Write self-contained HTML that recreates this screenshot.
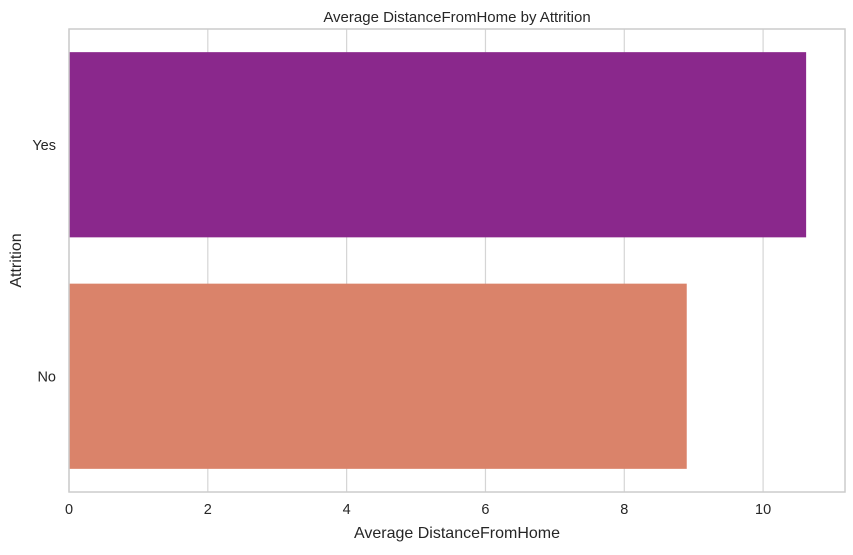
<!DOCTYPE html>
<html><head><meta charset="utf-8"><style>
body{margin:0;background:#fff;font-family:"Liberation Sans","DejaVu Sans",sans-serif;}
svg text{font-family:"Liberation Sans","DejaVu Sans",sans-serif;fill:#262626;}
</style></head><body>
<svg id="chart" width="853" height="550"></svg>
<script>
const categories = ["Yes", "No"];
const values = [10.62, 8.9];
const colors = ["#8a288c", "#da836a"];
const xTicks = [0, 2, 4, 6, 8, 10];
const xMax = 11.18;
const L = 69, R = 845, T = 29, B = 492;
const svg = document.getElementById('chart');
const NS = 'http://www.w3.org/2000/svg';
function x(v){ return L + v/xMax*(R-L); }
const band = (B-T)/categories.length;
function yc(i){ return T + band*(i+0.5); }
function mk(tag, attrs, parent){ const e=document.createElementNS(NS,tag); for(const k in attrs) e.setAttribute(k,attrs[k]); (parent||svg).appendChild(e); return e; }
xTicks.forEach(t=>{
  const g = mk('line',{x1:x(t),x2:x(t),y1:T,y2:B,stroke:'#d5d5d5','stroke-width':1.2});
  
  
  const tx = mk('text',{x:x(t),y:B+22,'text-anchor':'middle','font-size':14.5});
  tx.textContent = t;
  
  
});
categories.forEach((c,i)=>{
  const h = band*0.8;
  const r = mk('rect',{x:x(0),y:yc(i)-h/2,width:x(values[i])-x(0),height:h,fill:colors[i]});
  
  
  const tx = mk('text',{x:L-13,y:yc(i)+5,'text-anchor':'end','font-size':14.5});
  tx.textContent = c;
  
  
});
const fr = mk('rect',{x:L,y:T,width:R-L,height:B-T,fill:'none',stroke:'#cccccc','stroke-width':1.5});


const title = mk('text',{x:(L+R)/2,y:T-7,'text-anchor':'middle','font-size':15});
title.textContent = 'Average DistanceFromHome by Attrition';


const xl = mk('text',{x:(L+R)/2,y:538,'text-anchor':'middle','font-size':16});
xl.textContent = 'Average DistanceFromHome';


const yl = mk('text',{x:0,y:0,'text-anchor':'middle','font-size':16,transform:'translate(21,'+((T+B)/2)+') rotate(-90)'});
yl.textContent = 'Attrition';


</script>
</body></html>
